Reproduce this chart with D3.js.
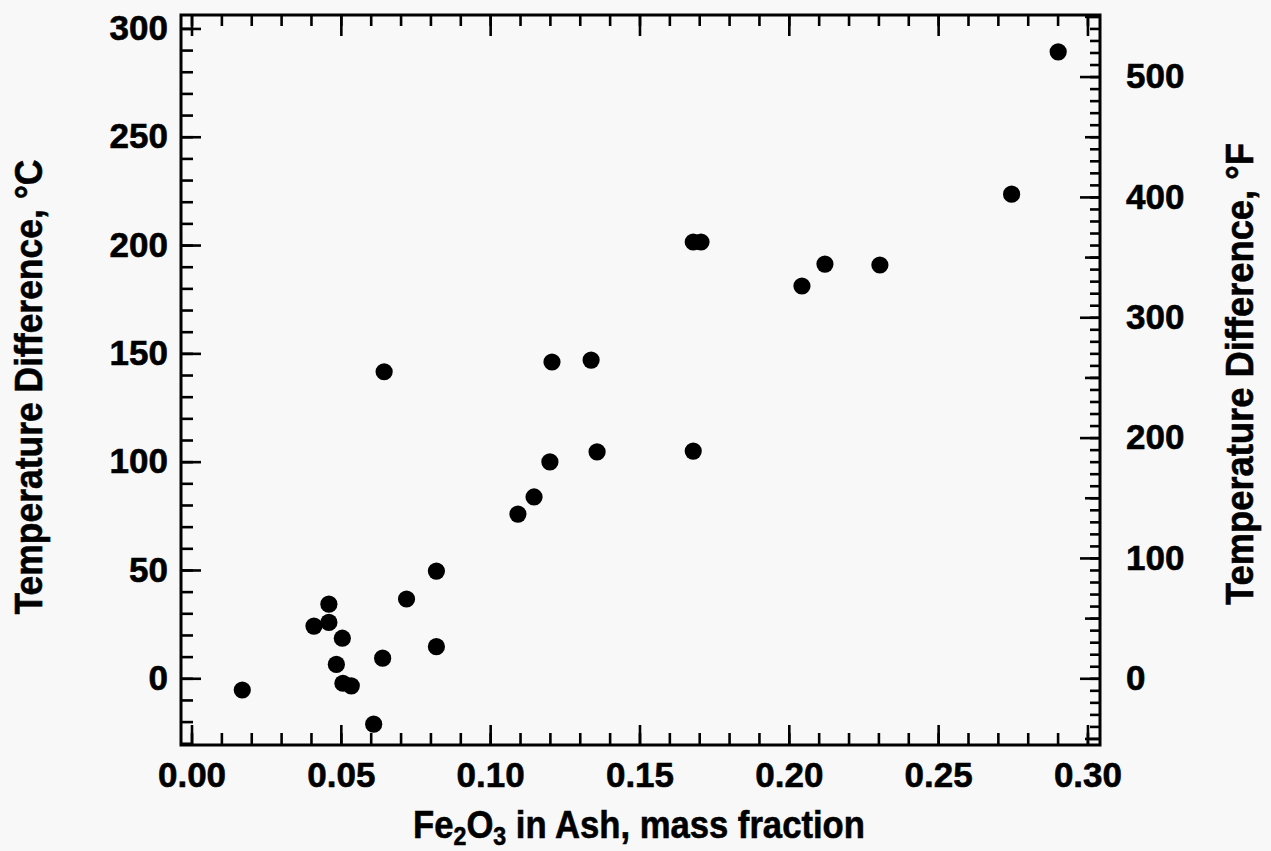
<!DOCTYPE html>
<html>
<head>
<meta charset="utf-8">
<script src="https://cdn.jsdelivr.net/npm/d3@7"></script>
<style>
  html, body { margin: 0; padding: 0; background: #f8f8f8; }
  svg { display: block; }
  text { font-family: "Liberation Sans", Arial, Helvetica, sans-serif; font-weight: bold; fill: #000; }
</style>
</head>
<body>
<svg id="chart" width="1271" height="851"></svg>
<script>
// ---- data ----
const fe2o3 = [0.017, 0.041, 0.046, 0.046, 0.0505, 0.0485, 0.0507, 0.0535, 0.061, 0.064, 0.0645,
               0.072, 0.082, 0.082, 0.1093, 0.1147, 0.120, 0.1207, 0.1338, 0.1358,
               0.168, 0.168, 0.1706, 0.2044, 0.2121, 0.2305, 0.2746, 0.2902];
const tempDiffC = [-5.4, 24.1, 34.2, 25.8, 18.5, 6.4, -2.3, -3.5, -21.2, 9.3, 141.5,
                   36.6, 49.5, 14.6, 75.8, 83.7, 99.9, 146, 146.9, 104.5,
                   104.9, 201.4, 201.4, 181.1, 191.2, 190.8, 223.5, 289.2];
const xMajorTicks = [0, 0.05, 0.10, 0.15, 0.20, 0.25, 0.30];
const xTickLabels = ["0.00", "0.05", "0.10", "0.15", "0.20", "0.25", "0.30"];
const xMinorTicks = d3.range(0, 31).map(i => i / 100);
const yMajorTicks = [0, 50, 100, 150, 200, 250, 300];
const yMinorTicks = d3.range(-30, 301, 10);
const fMajorTicks = [0, 100, 200, 300, 400, 500];
const fMediumTicks = [-50, 50, 150, 250, 350, 450, 550];
const fMinorTicks = d3.range(-50, 551, 10);
const xTitle = ["Fe", "2", "O", "3", " in Ash, mass fraction"];
const yTitleLeft = "Temperature Difference, °C";
const yTitleRight = "Temperature Difference, °F";

// ---- layout ----
const svg = d3.select("#chart");
const L = 181, R = 1100, T = 15, B = 745;

const x = d3.scaleLinear().domain([-0.00352, 0.3042]).range([L, R]);
const y = d3.scaleLinear().domain([-30.8, 306.2]).range([B, T]);
const yF = d3.scaleLinear().domain([-30.8 * 1.8, 306.2 * 1.8]).range([B, T]);

svg.append("rect").attr("width", 1271).attr("height", 851).attr("fill", "#f8f8f8");

function styleAxis(g) {
  g.select(".domain").remove();
  g.selectAll(".tick line").attr("stroke", "#000").attr("stroke-width", 2.6);
  g.selectAll(".tick text").attr("font-size", 35).attr("font-family", null).attr("fill", "#000")
    .attr("stroke", "#000").attr("stroke-width", 0.6);
}

// bottom axis
svg.append("g").attr("transform", `translate(0,${B})`)
  .call(d3.axisBottom(x).tickValues(xMinorTicks).tickSize(-12).tickFormat(""))
  .call(styleAxis);
svg.append("g").attr("transform", `translate(0,${B})`)
  .call(d3.axisBottom(x).tickValues(xMajorTicks).tickSize(-20).tickPadding(17)
        .tickFormat((d, i) => xTickLabels[i]))
  .call(styleAxis);
// top axis
svg.append("g").attr("transform", `translate(0,${T})`)
  .call(d3.axisTop(x).tickValues(xMinorTicks).tickSize(-11).tickFormat(""))
  .call(styleAxis);
svg.append("g").attr("transform", `translate(0,${T})`)
  .call(d3.axisTop(x).tickValues(xMajorTicks).tickSize(-21).tickFormat(""))
  .call(styleAxis);
// left axis
svg.append("g").attr("transform", `translate(${L},0)`)
  .call(d3.axisLeft(y).tickValues(yMinorTicks).tickSize(-12).tickFormat(""))
  .call(styleAxis);
svg.append("g").attr("transform", `translate(${L},0)`)
  .call(d3.axisLeft(y).tickValues(yMajorTicks).tickSize(-20).tickPadding(13).tickFormat(d3.format("d")))
  .call(styleAxis);
// right axis (°F)
svg.append("g").attr("transform", `translate(${R},0)`)
  .call(d3.axisRight(yF).tickValues(fMinorTicks).tickSize(-10).tickFormat(""))
  .call(styleAxis);
svg.append("g").attr("transform", `translate(${R},0)`)
  .call(d3.axisRight(yF).tickValues(fMediumTicks).tickSize(-15).tickFormat(""))
  .call(styleAxis);
svg.append("g").attr("transform", `translate(${R},0)`)
  .call(d3.axisRight(yF).tickValues(fMajorTicks).tickSize(-20).tickPadding(26).tickFormat(d3.format("d")))
  .call(styleAxis);

// frame
svg.append("rect").attr("x", L).attr("y", T).attr("width", R - L).attr("height", B - T)
  .attr("fill", "none").attr("stroke", "#000").attr("stroke-width", 3);

// points
svg.append("g").selectAll("circle").data(fe2o3).join("circle")
  .attr("cx", d => x(d)).attr("cy", (d, i) => y(tempDiffC[i]))
  .attr("r", 8.6).attr("fill", "#000");

// titles
function fitText(sel, target) {
  const w = sel.node().getComputedTextLength();
  return target / w;
}
function titleStyle(sel) {
  return sel.attr("stroke", "#000").attr("stroke-width", 0.6);
}
// left title
const lt = svg.append("text").attr("font-size", 39).attr("text-anchor", "middle").text(yTitleLeft).call(titleStyle);
const kL = fitText(lt, 455);
lt.attr("transform", `translate(42,387) rotate(-90) scale(${kL},1)`);
// right title
const rt = svg.append("text").attr("font-size", 39).attr("text-anchor", "middle").text(yTitleRight).call(titleStyle);
const kR = fitText(rt, 462);
rt.attr("transform", `translate(1253,374) rotate(-90) scale(${kR},1)`);
// bottom title
const bt = svg.append("text").attr("font-size", 39).attr("text-anchor", "middle").call(titleStyle);
xTitle.forEach((s, i) => {
  const sub = (i === 1 || i === 3);
  bt.append("tspan").text(s)
    .attr("font-size", sub ? 26 : 39)
    .attr("dy", sub ? 7 : (i === 0 ? 0 : -7));
});
const kB = fitText(bt, 452);
bt.attr("transform", `translate(639,838) scale(${kB},1)`);
</script>
</body>
</html>
